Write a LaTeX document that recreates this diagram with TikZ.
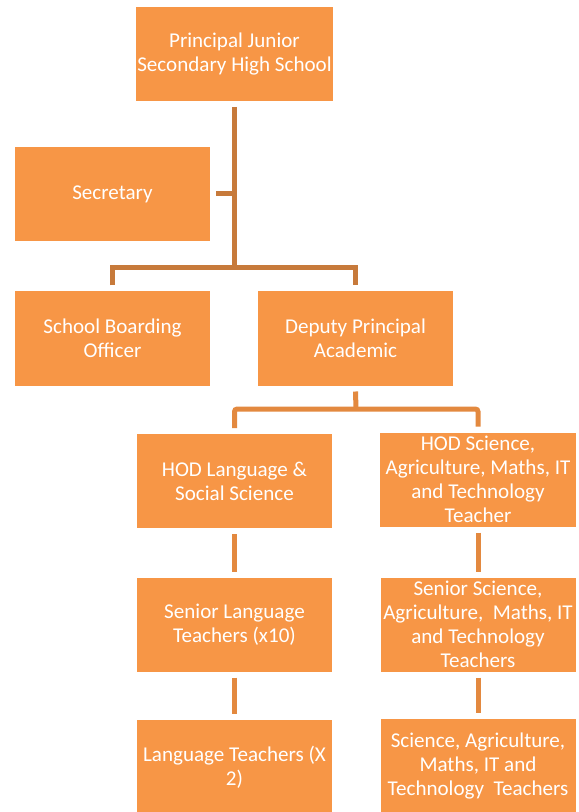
\documentclass[tikz,border=0pt]{standalone}
\usepackage{fontspec}
\setmainfont{Carlito}
\definecolor{boxorange}{HTML}{F79646}
\definecolor{topline}{HTML}{C77A3B}
\definecolor{lowline}{HTML}{E3893F}
\begin{document}
\begin{tikzpicture}[x=0.75pt, y=-0.75pt,
  post/.style={fill=boxorange, text=white, align=center, inner sep=1pt, outer sep=4.5pt,
    minimum width=146.25pt, minimum height=70.5pt, font=\fontsize{15.8}{18}\selectfont},
  link/.style={draw=topline, line width=3.75pt},
  sublink/.style={draw=lowline, line width=3.75pt}]
  \useasboundingbox (0,0) rectangle (578,812);
  % boxes of the chart
  \node[post] (prin) at (234.5,54) {Principal Junior\\Secondary High School};
  \node[post] (sec) at (112.5,194) {Secretary};
  \node[post] (board) at (112.5,338.5) {School Boarding\\Officer};
  \node[post] (dep) at (355.5,338.5) {Deputy Principal\\Academic};
  \node[post] (hodl) at (234.5,481) {HOD Language \&\\Social Science};
  \node[post, minimum width=147pt] (hods) at (478,479.5) {HOD Science,\\Agriculture, Maths, IT\\and Technology\\Teacher};
  \node[post] (senl) at (234.5,624.5) {Senior Language\\Teachers (x10)};
  \node[post] (sens) at (478,624.5) {Senior Science,\\Agriculture,\ \ Maths, IT\\and Technology\\Teachers};
  \node[post] (lang) at (234.5,767) {Language Teachers (X\\2)};
  \node[post] (sci) at (478,766) {Science, Agriculture,\\Maths, IT and\\Technology\ \ Teachers};
  % connectors
  \coordinate (bus1) at (234.5,268);
  \coordinate (bus2) at (356,409);
  \draw[link] (prin.south) -- (bus1);
  \draw[link] (sec.east) -- (sec.east -| prin.south);
  \draw[link] (board.north) |- (bus1) -| (dep.north);
  \draw[sublink] (dep.south) -- (bus2);
  \draw[sublink, rounded corners=2pt] (hodl.north) |- (bus2) -| (hods.north);
  \draw[sublink] (hodl.south) -- (senl.north);
  \draw[sublink] (senl.south) -- (lang.north);
  \draw[sublink] (hods.south) -- (sens.north);
  \draw[sublink] (sens.south) -- (sci.north);
\end{tikzpicture}
\end{document}
